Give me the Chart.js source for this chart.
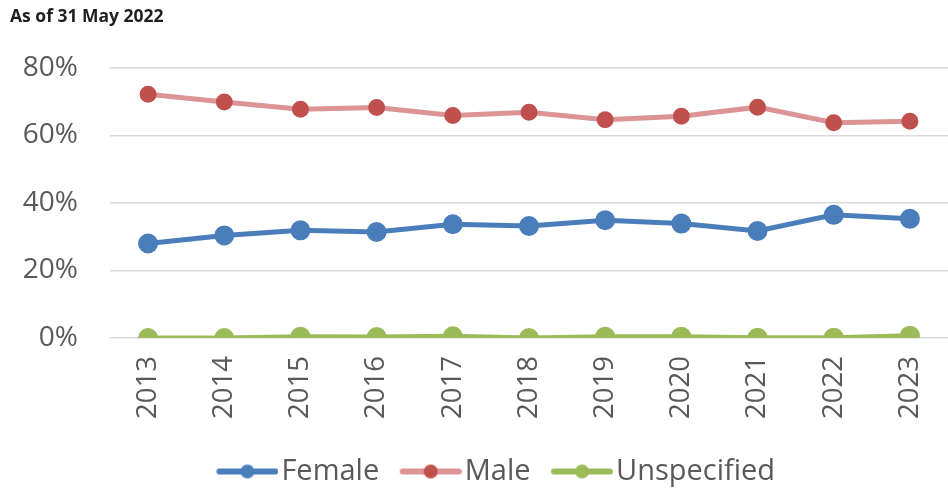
<!DOCTYPE html>
<html>
<head>
<meta charset="utf-8">
<script src="https://cdn.jsdelivr.net/npm/chart.js@4.4.0/dist/chart.umd.min.js"></script>
<style>
  html, body { margin: 0; padding: 0; background: #fff; }
  #wrap { width: 948px; height: 489px; }
</style>
</head>
<body>
<div id="wrap"><canvas id="genderChart"></canvas></div>
<script>
// data
const years = ['2013', '2014', '2015', '2016', '2017', '2018', '2019', '2020', '2021', '2022', '2023'];
const female = [28.0, 30.4, 31.9, 31.4, 33.7, 33.2, 34.9, 33.9, 31.7, 36.5, 35.3];
const male = [72.2, 69.9, 67.8, 68.3, 65.9, 66.9, 64.7, 65.7, 68.4, 63.8, 64.2];
const unspecified = [0.0, 0.0, 0.4, 0.3, 0.5, 0.0, 0.4, 0.4, 0.1, 0.1, 0.7];
const yTicks = [0, 20, 40, 60, 80];

const FONT = '"Open Sans", Lato, sans-serif';
const GREY = '#595959';
const LEGEND_BOX = 66;

// line-with-dot marker for the legend, drawn in the right part of the image
function legendMarker(lineColor, dotColor) {
    const c = document.createElement('canvas');
    c.width = LEGEND_BOX + 23; c.height = 16;
    const g = c.getContext('2d');
    const x0 = LEGEND_BOX - 39;
    g.strokeStyle = lineColor;
    g.lineWidth = 6;
    g.lineCap = 'round';
    g.beginPath(); g.moveTo(x0 + 3, 8); g.lineTo(x0 + 59, 8); g.stroke();
    g.fillStyle = dotColor;
    g.beginPath(); g.arc(x0 + 31, 8, 7, 0, Math.PI * 2); g.fill();
    return c;
}

const series = [
    { label: 'Female', data: female, line: '#4a7ebb', dot: '#4a7ebb', r: 7.5 },
    { label: 'Male', data: male, line: '#dc9494', dot: '#c0504d', r: 6 },
    { label: 'Unspecified', data: unspecified, line: '#9bbb59', dot: '#9bbb59', r: 7.5 }
];

const ctx = document.getElementById('genderChart').getContext('2d');
const genderChart = new Chart(ctx, {
    type: 'line',
    data: {
        labels: years,
        datasets: series.map(s => ({
            label: s.label,
            data: s.data,
            borderColor: s.line,
            backgroundColor: s.dot,
            pointBackgroundColor: s.dot,
            pointBorderColor: s.dot,
            pointRadius: s.r,
            borderWidth: 5,
            tension: 0
        }))
    },
    options: {
        responsive: true,
        maintainAspectRatio: false,
        animation: false,
        layout: { autoPadding: false, padding: { left: 10, right: -18, top: 0, bottom: -7 } },
        plugins: {
            title: {
                display: true,
                text: 'As of 31 May 2022',
                align: 'start',
                color: '#1f1f1f',
                font: { family: FONT, size: 17.5, weight: 'bold' },
                padding: { top: 7, bottom: 40 }
            },
            legend: {
                position: 'bottom',
                labels: {
                    color: GREY,
                    font: { family: FONT, size: 29 },
                    usePointStyle: true,
                    pointStyleWidth: LEGEND_BOX,
                    boxHeight: 16,
                    padding: 5,
                    generateLabels: chart => series.map((s, i) => ({
                        text: s.label,
                        datasetIndex: i,
                        pointStyle: legendMarker(s.line, s.dot),
                        fontColor: GREY,
                        lineWidth: 0,
                        strokeStyle: 'transparent',
                        fillStyle: s.dot
                    }))
                }
            },
            tooltip: { enabled: false }
        },
        scales: {
            x: {
                offset: true,
                afterFit: axis => {
                    axis.paddingLeft = 0;
                    axis.paddingRight = 0;
                    axis.height = 114;
                },
                grid: { display: false, drawTicks: false },
                border: { display: false },
                ticks: {
                    color: GREY,
                    font: { family: FONT, size: 27.5 },
                    minRotation: 90,
                    maxRotation: 90,
                    padding: 18
                }
            },
            y: {
                min: 0,
                max: 80,
                afterBuildTicks: axis => { axis.ticks = yTicks.map(v => ({ value: v })); },
                afterFit: axis => { axis.width = 100; },
                grid: { color: '#d9d9d9', lineWidth: 1.5, drawTicks: false },
                border: { display: false },
                ticks: {
                    color: GREY,
                    font: { family: FONT, size: 28 },
                    padding: 32,
                    callback: v => v + '%'
                }
            }
        }
    }
});
</script>
</body>
</html>
